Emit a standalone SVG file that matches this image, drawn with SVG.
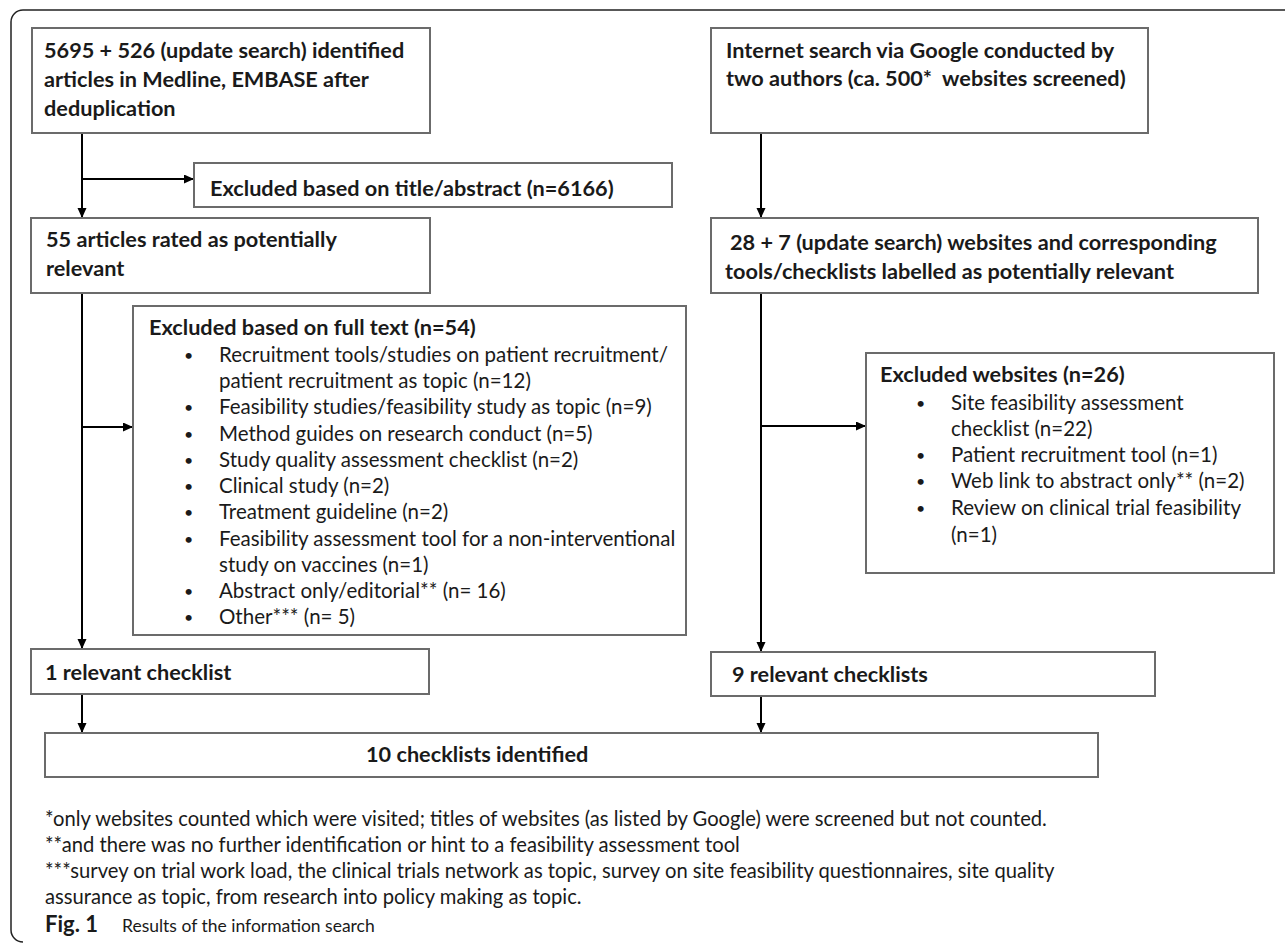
<svg xmlns="http://www.w3.org/2000/svg" width="1285" height="944" viewBox="0 0 1285 944">
<style>
.box{fill:#fff;stroke:#6b6b6b;stroke-width:2}
.b{font-family:Lato,"Liberation Sans",sans-serif;font-weight:bold;font-size:21.7px;fill:#1a1a1a}
.r{font-family:Lato,"Liberation Sans",sans-serif;font-size:20.5px;fill:#1a1a1a}
.bul{font-family:Lato,"Liberation Sans",sans-serif;font-size:16px;fill:#1a1a1a}
.fn{font-family:Lato,"Liberation Sans",sans-serif;font-size:20.2px;fill:#1a1a1a}
.cap{font-family:Lato,"Liberation Sans",sans-serif;font-size:17.5px;fill:#1a1a1a}
.conn{stroke:#000;stroke-width:2;fill:none;marker-end:url(#ah)}
.frame{stroke:#222;stroke-width:1.5;fill:none}
</style>
<defs>
<marker id="ah" markerUnits="userSpaceOnUse" markerWidth="11" markerHeight="10" refX="10" refY="4.5" orient="auto">
<path d="M0,0 L10,4.5 L0,9 z" fill="#000"/>
</marker>
</defs>
<rect width="1285" height="944" fill="#fff"/>
<path class="frame" d="M1285,10 H23 A12,12 0 0 0 11,22 V930 A12,12 0 0 0 23,942"/>

<g id="connectors">
<path class="conn" d="M82,133 V218"/>
<path class="conn" d="M82,179 H194"/>
<path class="conn" d="M82,293 V649"/>
<path class="conn" d="M82,427 H133"/>
<path class="conn" d="M82,694 V733"/>
<path class="conn" d="M761,133 V218"/>
<path class="conn" d="M761,293 V652"/>
<path class="conn" d="M761,426 H866"/>
<path class="conn" d="M761,696 V733"/>
</g>

<g id="n-identified">
<rect class="box" x="32" y="28" width="398" height="105"/>
<text class="b" x="44" y="58">5695 + 526 (update search) identified</text>
<text class="b" x="44" y="87">articles in Medline, EMBASE after</text>
<text class="b" x="44" y="116">deduplication</text>
</g>

<g id="n-internet">
<rect class="box" x="711" y="28" width="437" height="105"/>
<text class="b" x="726" y="58">Internet search via Google conducted by</text>
<text class="b" x="726" y="86" xml:space="preserve">two authors (ca. 500*  websites screened)</text>
</g>

<g id="n-excl-title">
<rect class="box" x="194" y="163" width="478" height="44"/>
<text class="b" x="210" y="196">Excluded based on title/abstract (n=6166)</text>
</g>

<g id="n-55">
<rect class="box" x="31" y="218" width="399" height="75"/>
<text class="b" x="46" y="247">55 articles rated as potentially</text>
<text class="b" x="46" y="276">relevant</text>
</g>

<g id="n-28">
<rect class="box" x="711" y="218" width="547" height="75"/>
<text class="b" x="730" y="250">28 + 7 (update search) websites and corresponding</text>
<text class="b" x="725" y="279">tools/checklists labelled as potentially relevant</text>
</g>

<g id="n-excl-full">
<rect class="box" x="133" y="306" width="553" height="329"/>
<text class="b" x="149" y="335">Excluded based on full text (n=54)</text>
<g class="bul">
<text x="184" y="361">•</text>
<text x="184" y="413">•</text>
<text x="184" y="440">•</text>
<text x="184" y="466">•</text>
<text x="184" y="492">•</text>
<text x="184" y="518">•</text>
<text x="184" y="545">•</text>
<text x="184" y="597">•</text>
<text x="184" y="623">•</text>
</g>
<g class="r">
<text x="219" y="362">Recruitment tools/studies on patient recruitment/</text>
<text x="219" y="388">patient recruitment as topic (n=12)</text>
<text x="219" y="414">Feasibility studies/feasibility study as topic (n=9)</text>
<text x="219" y="441">Method guides on research conduct (n=5)</text>
<text x="219" y="467">Study quality assessment checklist (n=2)</text>
<text x="219" y="493">Clinical study (n=2)</text>
<text x="219" y="519">Treatment guideline (n=2)</text>
<text x="219" y="546">Feasibility assessment tool for a non-interventional</text>
<text x="219" y="572">study on vaccines (n=1)</text>
<text x="219" y="598">Abstract only/editorial** (n= 16)</text>
<text x="219" y="624">Other*** (n= 5)</text>
</g>
</g>

<g id="n-excl-web">
<rect class="box" x="866" y="353" width="408" height="220"/>
<text class="b" x="880" y="382">Excluded websites (n=26)</text>
<g class="bul">
<text x="916" y="409">•</text>
<text x="916" y="461">•</text>
<text x="916" y="487">•</text>
<text x="916" y="514">•</text>
</g>
<g class="r">
<text x="951" y="410">Site feasibility assessment</text>
<text x="951" y="436">checklist (n=22)</text>
<text x="951" y="462">Patient recruitment tool (n=1)</text>
<text x="951" y="488">Web link to abstract only** (n=2)</text>
<text x="951" y="515">Review on clinical trial feasibility</text>
<text x="951" y="542">(n=1)</text>
</g>
</g>

<g id="n-1-relevant">
<rect class="box" x="31" y="649" width="398" height="45"/>
<text class="b" x="45" y="680">1 relevant checklist</text>
</g>

<g id="n-9-relevant">
<rect class="box" x="711" y="652" width="444" height="44"/>
<text class="b" x="732" y="682">9 relevant checklists</text>
</g>

<g id="n-10">
<rect class="box" x="45" y="733" width="1053" height="44"/>
<text class="b" x="366" y="762">10 checklists identified</text>
</g>

<g id="footnotes" class="fn">
<text x="45" y="826">*only websites counted which were visited; titles of websites (as listed by Google) were screened but not counted.</text>
<text x="45" y="852">**and there was no further identification or hint to a feasibility assessment tool</text>
<text x="45" y="878">***survey on trial work load, the clinical trials network as topic, survey on site feasibility questionnaires, site quality</text>
<text x="45" y="904">assurance as topic, from research into policy making as topic.</text>
</g>

<g id="caption" class="cap">
<text x="45" y="932" font-weight="bold" font-size="22px">Fig. 1</text>
<text x="122" y="932">Results of the information search</text>
</g>
</svg>
